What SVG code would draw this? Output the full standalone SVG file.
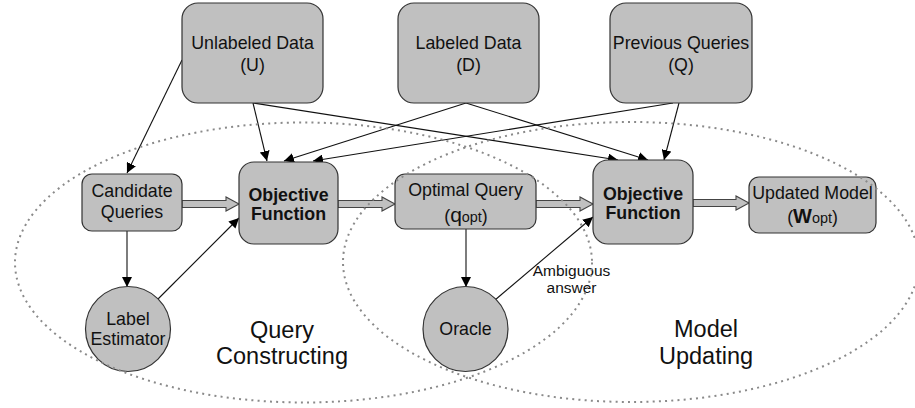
<svg xmlns="http://www.w3.org/2000/svg" width="915" height="408" viewBox="0 0 915 408">
<defs>
<style>
.box{fill:#c0c0c0;stroke:#333;stroke-width:1.2}
.t{font-family:"Liberation Sans",Arial,sans-serif;font-size:17.8px;fill:#111;text-anchor:middle}
.b{font-weight:bold}
.big{font-family:"Liberation Sans",Arial,sans-serif;font-size:23.5px;fill:#111;text-anchor:middle}
.sm{font-family:"Liberation Sans",Arial,sans-serif;font-size:15.5px;fill:#111;text-anchor:middle}
.ln{stroke:#111;stroke-width:1.1;fill:none}
.blk{fill:#c0c0c0;stroke:#444;stroke-width:1.1}
.dot{fill:none;stroke:#8a8a8a;stroke-width:2;stroke-dasharray:2 4.2}
</style>
<marker id="ah" viewBox="0 0 10 10" refX="10" refY="5" markerWidth="10" markerHeight="10" markerUnits="userSpaceOnUse" orient="auto">
<path d="M0,0 L10,5 L0,10 z" fill="#000"/>
</marker>
</defs>
<rect width="915" height="408" fill="#fff"/>

<g id="connectors">
<line class="ln" x1="182" y1="60" x2="127" y2="173" marker-end="url(#ah)"/>
<line class="ln" x1="253" y1="103" x2="267" y2="161" marker-end="url(#ah)"/>
<line class="ln" x1="253" y1="103" x2="618" y2="160" marker-end="url(#ah)"/>
<line class="ln" x1="466" y1="103" x2="284" y2="161" marker-end="url(#ah)"/>
<line class="ln" x1="466" y1="103" x2="648" y2="160" marker-end="url(#ah)"/>
<line class="ln" x1="673" y1="103" x2="313" y2="161" marker-end="url(#ah)"/>
<line class="ln" x1="679" y1="103" x2="664" y2="160" marker-end="url(#ah)"/>
<line class="ln" x1="127" y1="231" x2="127" y2="287" marker-end="url(#ah)"/>
<line class="ln" x1="157" y1="300" x2="239" y2="218" marker-end="url(#ah)"/>
<line class="ln" x1="466" y1="229" x2="466" y2="287" marker-end="url(#ah)"/>
<line class="ln" x1="495" y1="300" x2="593" y2="217" marker-end="url(#ah)"/>
<path class="blk" d="M182,200.5 H226 V197 L239,204 L226,211 V207.5 H182 z"/>
<path class="blk" d="M338,200.5 H382 V197 L395,204 L382,211 V207.5 H338 z"/>
<path class="blk" d="M536,200.5 H580 V197 L593,204 L580,211 V207.5 H536 z"/>
<path class="blk" d="M693,199.5 H736 V196 L749,203 L736,210 V206.5 H693 z"/>
</g>

<g id="unlabeled">
<rect class="box" x="182" y="3" width="141" height="100" rx="16"/>
<text class="t" x="252.5" y="49">Unlabeled Data</text>
<text class="t" x="252.5" y="71">(U)</text>
</g>
<g id="labeled">
<rect class="box" x="398" y="3" width="141" height="100" rx="16"/>
<text class="t" x="468.5" y="49">Labeled Data</text>
<text class="t" x="468.5" y="71">(D)</text>
</g>
<g id="previous">
<rect class="box" x="610" y="3" width="142" height="100" rx="16"/>
<text class="t" x="681" y="49">Previous Queries</text>
<text class="t" x="681" y="71">(Q)</text>
</g>
<g id="candidate">
<rect class="box" x="82" y="174" width="100" height="57" rx="10"/>
<text class="t" x="132" y="197">Candidate</text>
<text class="t" x="132" y="218">Queries</text>
</g>
<g id="objective1">
<rect class="box" x="239" y="162" width="99" height="82" rx="15"/>
<text class="t b" x="288.5" y="201">Objective</text>
<text class="t b" x="288.5" y="220">Function</text>
</g>
<g id="optimal">
<rect class="box" x="395" y="174" width="141" height="55" rx="10"/>
<text class="t" x="465.5" y="196">Optimal Query</text>
<text class="t" x="466" y="222">(<tspan font-size="21">q</tspan><tspan font-size="14.4">opt</tspan>)</text>
</g>
<g id="objective2">
<rect class="box" x="593" y="160" width="100" height="84" rx="15"/>
<text class="t b" x="643" y="200">Objective</text>
<text class="t b" x="643" y="219">Function</text>
</g>
<g id="updated">
<rect class="box" x="749" y="177" width="127" height="56" rx="10"/>
<text class="t" x="812.5" y="199">Updated Model</text>
<text class="t" x="812.5" y="223">(<tspan font-weight="bold" font-size="20">W</tspan><tspan font-size="14.4">opt</tspan>)</text>
</g>
<g id="label-estimator">
<circle class="box" cx="128" cy="329" r="42.5"/>
<text class="t" x="128" y="325">Label</text>
<text class="t" x="128" y="345">Estimator</text>
</g>
<g id="oracle">
<circle class="box" cx="465.5" cy="329" r="42.5"/>
<text class="t" x="465.5" y="335">Oracle</text>
</g>

<g id="edge-label">
<text class="sm" x="571.5" y="276">Ambiguous</text>
<text class="sm" x="571.5" y="293">answer</text>
</g>

<g id="regions">
<ellipse class="dot" cx="303.5" cy="262.5" rx="288.5" ry="140"/>
<ellipse class="dot" cx="631" cy="262" rx="288" ry="140"/>
<text class="big" x="282" y="338">Query</text>
<text class="big" x="282" y="364">Constructing</text>
<text class="big" x="706" y="337">Model</text>
<text class="big" x="706" y="364">Updating</text>
</g>
</svg>
